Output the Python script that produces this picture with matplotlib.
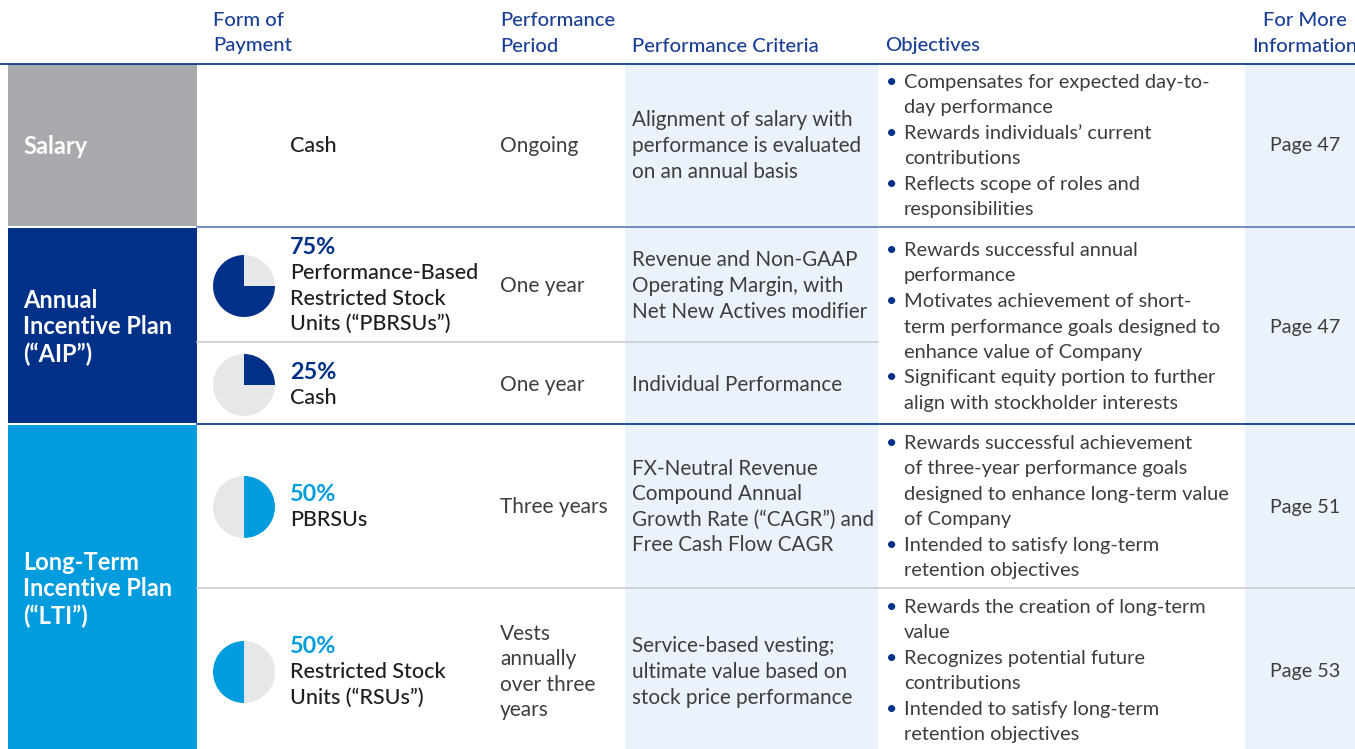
import matplotlib.pyplot as plt
from matplotlib.patches import Rectangle

# table content
groups = ['Salary', 'Annual\nIncentive Plan\n(“AIP”)', 'Long-Term\nIncentive Plan\n(“LTI”)']
headers = ['Form of\nPayment', 'Performance\nPeriod', 'Performance Criteria', 'Objectives', 'For More\nInformation']
pct = [None, 75, 25, 50, 50]
pct_clockwise = [None, False, True, True, False]
forms = ['Cash', 'Performance-Based\nRestricted Stock\nUnits (“PBRSUs”)', 'Cash', 'PBRSUs',
         'Restricted Stock\nUnits (“RSUs”)']
periods = ['Ongoing', 'One year', 'One year', 'Three years', 'Vests\nannually\nover three\nyears']
criteria = ['Alignment of salary with\nperformance is evaluated\non an annual basis',
            'Revenue and Non-GAAP\nOperating Margin, with\nNet New Actives modifier',
            'Individual Performance',
            'FX-Neutral Revenue\nCompound Annual\nGrowth Rate (“CAGR”) and\nFree Cash Flow CAGR',
            'Service-based vesting;\nultimate value based on\nstock price performance']
objectives = [
    ['Compensates for expected day-to-\nday performance', 'Rewards individuals’ current\ncontributions',
     'Reflects scope of roles and\nresponsibilities'],
    ['Rewards successful annual\nperformance', 'Motivates achievement of short-\nterm performance goals designed to\nenhance value of Company',
     'Significant equity portion to further\nalign with stockholder interests'],
    ['Rewards successful achievement\nof three-year performance goals\ndesigned to enhance long-term value\nof Company',
     'Intended to satisfy long-term\nretention objectives'],
    ['Rewards the creation of long-term\nvalue', 'Recognizes potential future\ncontributions',
     'Intended to satisfy long-term\nretention objectives'],
]
pages = ['Page 47', 'Page 47', 'Page 51', 'Page 53']

W, H = 1355, 749
NAVY = '#003087'
LBLUE = '#009CDE'
GREY = '#A7A9AC'
PIEBG = '#E6E7E8'
SHADE = '#EBF2FB'
HEAD = '#1B3F94'
TXT = '#3d3d3d'
DARK = '#1e1e1e'
LH = 25.5

plt.rcParams['font.family'] = ['Lato', 'DejaVu Sans']

fig = plt.figure(figsize=(W / 100, H / 100), dpi=100)
ax = fig.add_axes([0, 0, 1, 1])


def Y(py):
    return H - py


def lines_at(x, yc, text, lh=LH, **kw):
    rows = text.split('\n')
    y0 = yc - (len(rows) - 1) / 2 * lh
    for i, r in enumerate(rows):
        ax.text(x, Y(y0 + i * lh), r, va='center', **kw)


# shaded columns
ax.add_patch(Rectangle((625, 0), 253, Y(63), color=SHADE, lw=0))
ax.add_patch(Rectangle((1245, 0), 110, Y(63), color=SHADE, lw=0))

# left group blocks
group_spans = [(64, 226), (228, 423), (425, 749)]
group_colors = [GREY, NAVY, LBLUE]
group_centers = [146, 327, 589]
for g, (y0, y1), c, yc in zip(groups, group_spans, group_colors, group_centers):
    ax.add_patch(Rectangle((8, Y(y1)), 189, y1 - y0, color=c, lw=0))
    lines_at(23, yc, g, lh=27, color='white', fontsize=17, fontweight='bold')

# header
head_x = [213, 500, 632, 885, 1305]
for h, x in zip(headers, head_x):
    rows = h.split('\n')
    for i, r in enumerate(rows):
        yy = 46 - (len(rows) - 1 - i) * 25
        ax.text(x, Y(yy), r, va='center', ha='center' if x > 1300 else 'left',
                color=HEAD, fontsize=14.6, fontweight='medium')

# grid lines
ax.plot([0, W], [Y(63.5)] * 2, color=NAVY, lw=1.2)
ax.plot([197, W], [Y(227)] * 2, color='#5A7AB5', lw=1.2)
ax.plot([197, 878], [Y(342)] * 2, color='#C9CBCE', lw=1.2)
ax.plot([197, W], [Y(424)] * 2, color=NAVY, lw=1.2)
ax.plot([197, W], [Y(588)] * 2, color='#C9CBCE', lw=1.2)

# sub-rows
row_y = [146, 286, 385, 507, 672]
pie_colors = [None, NAVY, NAVY, LBLUE, LBLUE]
for i, yc in enumerate(row_y):
    if pct[i] is None:
        lines_at(290, yc, forms[i], color=DARK, fontsize=15.5, fontweight='medium')
    else:
        ax.pie([pct[i], 100 - pct[i]], colors=[pie_colors[i], PIEBG], startangle=90,
               counterclock=not pct_clockwise[i], radius=31, center=(244, Y(yc)),
               frame=True, wedgeprops=dict(lw=0))
        rows = forms[i].split('\n')
        top = yc - len(rows) / 2 * LH
        ax.text(290, Y(top), f'{pct[i]}%', va='center', color=pie_colors[i],
                fontsize=16.8, fontweight='bold')
        for k, r in enumerate(rows):
            ax.text(290, Y(top + (k + 1) * LH), r, va='center', color=DARK,
                    fontsize=15.5, fontweight='medium')
    lines_at(500, yc, periods[i], color=TXT, fontsize=15)
    lines_at(632, yc, criteria[i], color=TXT, fontsize=14.9)

# objectives and pages
obj_y = [146, 327, 507, 671]
for bullets, page, yc in zip(objectives, pages, obj_y):
    flat = []
    for b in bullets:
        for k, r in enumerate(b.split('\n')):
            flat.append((k == 0, r))
    y0 = yc - (len(flat) - 1) / 2 * LH
    for k, (is_first, r) in enumerate(flat):
        yy = Y(y0 + k * LH)
        if is_first:
            ax.text(886, yy, '•', va='center', color=NAVY, fontsize=14)
        ax.text(904, yy, r, va='center', color=TXT, fontsize=14.4)
    ax.text(1305, Y(yc), page, va='center', ha='center', color=TXT, fontsize=14.2)

ax.set_xlim(0, W)
ax.set_ylim(0, H)
ax.set_aspect('auto')
ax.axis('off')
fig.savefig('out.png', dpi=100)
